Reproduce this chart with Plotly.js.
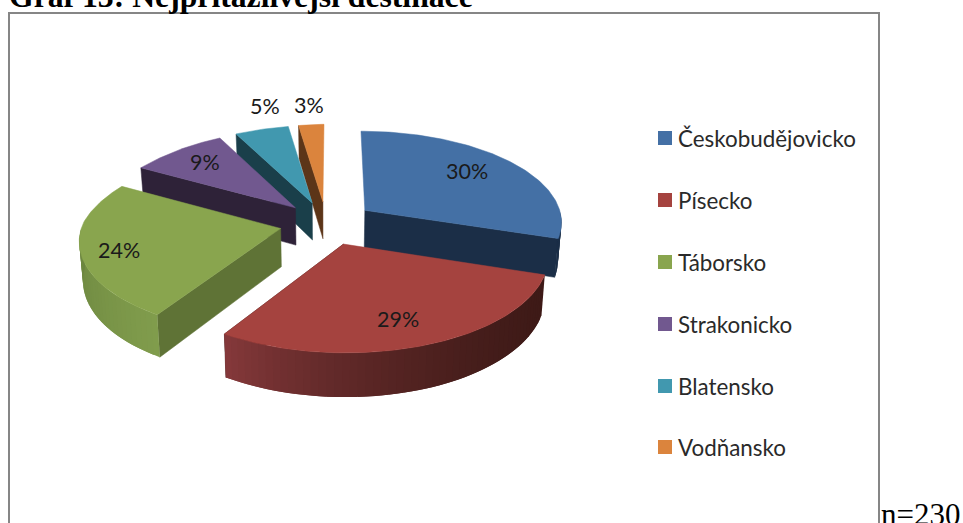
<!DOCTYPE html>
<html><head><meta charset="utf-8">
<script src="https://cdn.plot.ly/plotly-3.0.1.min.js"></script>
<style>html,body{margin:0;padding:0;background:#fff;overflow:hidden}#c{width:963px;height:523px}</style>
</head><body><div id="c"></div>
<script>
const categories = ["Českobudějovicko","Písecko","Táborsko","Strakonicko","Blatensko","Vodňansko"];
const values = [30,29,24,9,5,3];
const titleText = "Graf 13: Nejpřitažlivější destinace";
const noteText = "n=230";

// styles
const topColors = ["#4470A5","#A5433F","#89A54E","#71588F","#4198AF","#DB843D"];
const wallColors = ["#1B2E47","#3E1A17","#5F7336","#2E2238","#1A3F4A","#5C3518"];
const arcColorsA = ["#1B2E47","#3E1A17","#6B853F","#2E2238","#1A3F4A","#5C3518"];
const arcColorsB = ["#1B2E47","#84383A","#809C4C","#2E2238","#1A3F4A","#5C3518"];
// projection of the exploded disc
const P = {cx:327, cy:223, A:198, B:91, k:0.115, D:38, explode:0.24, taper:0.015, lean:8};
const labelPos = [[467,171],[398,319],[119,250],[205,162],[265,106],[309,105]];
const legendX = 665, legendTextX = 677, legendY = [138,200,262,324,386,447];
const drawOrder = [5,4,3,0,2,1];

const rad = d => d*Math.PI/180;
const clamp = q => Math.max(0,Math.min(1,q));
function proj(u,v,z){
  const s = 1/(1+P.k*v), f = 1-P.taper*z;
  const lean = P.lean*clamp(-u/0.2)*clamp(v/0.8);
  return [P.cx+P.A*u*s*f+lean, P.cy-P.B*v*s+P.D*s*z];
}
function hex(c){return [1,3,5].map(i=>parseInt(c.substr(i,2),16));}
function mix(a,b,t){const x=hex(a),y=hex(b);return "rgb("+x.map((q,i)=>Math.round(q+(y[i]-q)*t)).join(",")+")";}
function poly(pts,color,lw){
  return {type:"scatter",mode:"lines",x:pts.map(p=>p[0]).concat(pts[0][0]),y:pts.map(p=>p[1]).concat(pts[0][1]),
    fill:"toself",fillcolor:color,line:{color:color,width:lw},hoverinfo:"skip",showlegend:false};
}
const total = values.reduce((a,b)=>a+b,0);
let acc=0;
const slices = values.map(v=>{const a0=acc/total*360; acc+=v; return {a0,a1:acc/total*360};});

const traces=[];
drawOrder.forEach(i=>{
  const {a0,a1}=slices[i], mid=rad((a0+a1)/2);
  const ou=P.explode*Math.sin(mid), ov=P.explode*Math.cos(mid);
  const pt=(deg,z,r=1)=>proj(ou+r*Math.sin(rad(deg)),ov+r*Math.cos(rad(deg)),z);
  const wallDeg = (a0+a1)/2<180 ? a1 : a0;
  traces.push(poly([pt(wallDeg,0,0),pt(wallDeg,1,0),pt(wallDeg,1),pt(wallDeg,0)],wallColors[i],0.5));
  // outer wall: strips painted in sequence, each overlapping the next so no seams show
  const w0=Math.max(a0,90), w1=Math.min(a1,270);
  if(w1>w0){
    const n=Math.max(1,Math.ceil((w1-w0)/2)), step=(w1-w0)/n;
    for(let j=0;j<n;j++){
      const d0=w0+step*j, d1=w0+step*(j+1), d2=Math.min(w1,d1+step);
      const t=(i===2)?1-j/(n-1||1):j/(n-1||1);
      const pts=[pt(d0,0),pt(d1,0),pt(d2,0),pt(d2,1),pt(d1,1),pt(d0,1)];
      traces.push(poly(pts,mix(arcColorsA[i],arcColorsB[i],i===1?t*t:t),0));
    }
  }
  const top=[pt(a0,0,0)];
  for(let d=a0;d<=a1+1e-6;d+=(a1-a0)/Math.ceil(a1-a0)) top.push(pt(d,0));
  traces.push(poly(top,topColors[i],0.5));
});

// legend swatches
traces.push({type:"scatter",mode:"markers",x:categories.map(()=>legendX),y:legendY,
  marker:{symbol:"square",size:14,color:topColors,line:{width:0}},hoverinfo:"skip",showlegend:false});

const annotations = values.map((v,i)=>({xref:"x",yref:"y",x:labelPos[i][0],y:labelPos[i][1],text:v+"%",showarrow:false,
  font:{family:"Lato",size:21.5,color:"#1a1a1a"},xanchor:"center",yanchor:"middle"}));
categories.forEach((c,i)=>annotations.push({xref:"x",yref:"y",x:legendTextX,y:legendY[i],text:c,showarrow:false,
  font:{family:"Lato",size:22.4,color:"#2a2a2a"},xanchor:"left",yanchor:"middle",xshift:-1,yshift:0}));
annotations.push({xref:"paper",yref:"paper",x:7/963,y:1,yshift:3.5,text:"<b>"+titleText+"</b>",showarrow:false,xanchor:"left",yanchor:"middle",
  font:{family:"Liberation Serif",size:31.7,color:"#000"}});
annotations.push({xref:"x",yref:"y",x:879,y:514,text:noteText,showarrow:false,xanchor:"left",yanchor:"middle",
  font:{family:"Liberation Serif",size:31,color:"#000"}});

Plotly.newPlot("c",traces,{
  width:963,height:523,margin:{l:0,r:0,t:0,b:0},paper_bgcolor:"#fff",plot_bgcolor:"#fff",showlegend:false,
  xaxis:{range:[0,963],visible:false,fixedrange:true},
  yaxis:{range:[523,0],visible:false,fixedrange:true},
  shapes:[{type:"rect",xref:"x",yref:"y",x0:9,x1:879,y0:13,y1:540,line:{color:"#868686",width:2},layer:"below"}],
  annotations
},{displayModeBar:false,staticPlot:true});
</script></body></html>
